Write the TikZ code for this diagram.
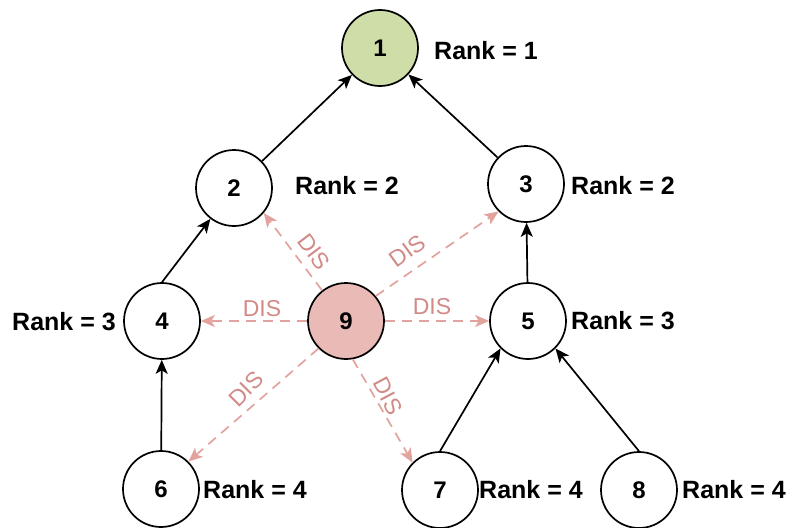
\documentclass[tikz,border=0pt]{standalone}
\usepackage{fontspec}
\setmainfont{Liberation Sans}
\usetikzlibrary{arrows.meta}
\definecolor{rootgreen}{RGB}{207,222,168}
\definecolor{disfill}{RGB}{234,186,183}
\definecolor{disline}{RGB}{226,162,157}
\definecolor{distext}{RGB}{210,138,135}
\tikzset{
  vert/.style={circle, draw=black, line width=1.7pt, minimum size=76pt, inner sep=0pt,
    font=\fontsize{24}{26}\selectfont\bfseries, fill=white},
  ranklbl/.style={anchor=west, inner sep=0pt, font=\fontsize{25}{28}\selectfont\bfseries},
  tree/.style={draw=black, line width=1.7pt, -{Stealth[length=14pt,width=12pt,inset=3.5pt]}},
  disarrow/.style={draw=disline, line width=1.7pt, dash pattern=on 10pt off 7pt,
    -{Stealth[length=14pt,width=12pt,inset=3.5pt]}},
  dislbl/.style={text=distext, inner sep=0pt, font=\fontsize{23}{25}\selectfont}
}
\begin{document}
\begin{tikzpicture}[x=1pt,y=-1pt]
\useasboundingbox (0,0) rectangle (789,527);
% vertices
\node[vert, fill=rootgreen] (n1) at (380,48) {1};
\node[vert] (n2) at (234,188) {2};
\node[vert] (n3) at (526,184) {3};
\node[vert] (n4) at (162,321) {4};
\node[vert, fill=disfill] (n9) at (346,321) {9};
\node[vert] (n5) at (528,321) {5};
\node[vert] (n6) at (161,489) {6};
\node[vert] (n7) at (440,490) {7};
\node[vert] (n8) at (639,490) {8};
% rank labels
\node[ranklbl] (r1) at (434,51) {Rank = 1};
\node[ranklbl] (r2) at (295,186) {Rank = 2};
\node[ranklbl] (r3) at (571,186) {Rank = 2};
\node[ranklbl] (r4) at (12,322) {Rank = 3};
\node[ranklbl] (r5) at (571,321) {Rank = 3};
\node[ranklbl] (r6) at (203,490) {Rank = 4};
\node[ranklbl] (r7) at (479,490) {Rank = 4};
\node[ranklbl] (r8) at (682,490) {Rank = 4};
% tree edges
\draw[tree] (n2) -- (n1);
\draw[tree] (n3) -- (n1);
\draw[tree] (n4.north) -- (n2);
\draw[tree] (n5) -- (n3);
\draw[tree] (n6) -- (n4);
\draw[tree] (n7.north) -- (n5.south west);
\draw[tree] (n8.north) -- (n5.south east);
% DIS edges
\draw[disarrow] (n9) -- (n4);
\draw[disarrow] (n9) -- (n5);
\draw[disarrow] (n9.128) -- (n2.-40);
\draw[disarrow] (n9.40) -- (n3.225);
\draw[disarrow] (n9.225) -- (n6.45);
\draw[disarrow] (n9.-80) -- (n7.135);
% DIS labels
\node[dislbl] (d4) at (262,309) {DIS};
\node[dislbl] (d5) at (432,307) {DIS};
\node[dislbl, rotate=-53] (d2) at (314,252) {DIS};
\node[dislbl, rotate=36] (d3) at (407,251) {DIS};
\node[dislbl, rotate=45] (d6) at (246,389) {DIS};
\node[dislbl, rotate=-62] (d7) at (388,396) {DIS};
\end{tikzpicture}
\end{document}
